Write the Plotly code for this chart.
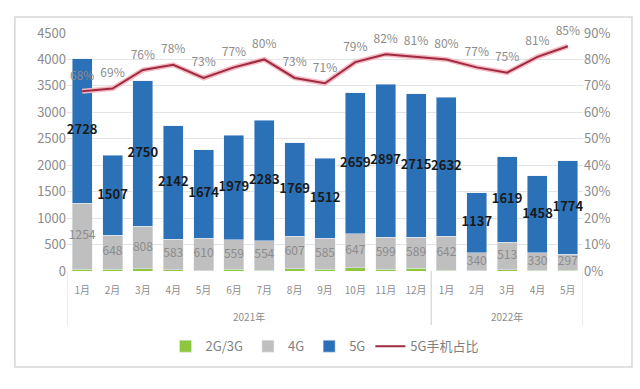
import plotly.graph_objects as go

years = ["2021年"] * 12 + ["2022年"] * 5
months = [f"{i}月" for i in range(1, 13)] + [f"{i}月" for i in range(1, 6)]
g23 = [30, 29, 40, 21, 9, 32, 17, 47, 33, 60, 37, 48, 16, 1, 27, 12, 16]
g4 = [1254, 648, 808, 583, 610, 559, 554, 607, 585, 647, 599, 589, 642, 340, 513, 330, 297]
g5 = [2728, 1507, 2750, 2142, 1674, 1979, 2283, 1769, 1512, 2659, 2897, 2715, 2632, 1137, 1619, 1458, 1774]
share = [68, 69, 76, 78, 73, 77, 80, 73, 71, 79, 82, 81, 80, 77, 75, 81, 85]

x = list(range(len(months)))
FONT = "Noto Sans CJK SC"

fig = go.Figure()
fig.add_trace(go.Bar(x=x, y=g23, name="2G/3G", marker_color="#8DC63F"))
fig.add_trace(go.Bar(x=x, y=g4, name="4G", marker_color="#BFBFBF"))
fig.add_trace(go.Bar(x=x, y=g5, name="5G", marker_color="#2A71B8"))

# value labels
mid4 = [a + b / 2 for a, b in zip(g23, g4)]
mid5 = [a + b + c / 2 for a, b, c in zip(g23, g4, g5)]
fig.add_trace(go.Scatter(x=x, y=mid4, mode="text", text=[str(v) for v in g4],
                         textfont=dict(color="#8C8C8C", size=12, family=FONT),
                         showlegend=False, hoverinfo="skip"))
fig.add_trace(go.Scatter(x=x, y=mid5, mode="text", text=[f"<b>{v}</b>" for v in g5],
                         textfont=dict(color="#1A1A1A", size=13, family=FONT),
                         showlegend=False, hoverinfo="skip"))

# share line with glow
fig.add_trace(go.Scatter(x=x, y=share, yaxis="y2", mode="lines",
                         line=dict(color="#F5B8C4", width=5),
                         showlegend=False, hoverinfo="skip"))
fig.add_trace(go.Scatter(x=x, y=share, yaxis="y2", mode="lines", name="5G手机占比",
                         line=dict(color="#9E2B3F", width=2), hoverinfo="skip"))
fig.add_trace(go.Scatter(x=x, y=share, yaxis="y2", mode="markers+text",
                         marker=dict(size=12, color="rgba(0,0,0,0)"),
                         text=[f"{v}%" for v in share], textposition="top center",
                         textfont=dict(color="#8C8C8C", size=12, family=FONT),
                         cliponaxis=False, showlegend=False, hoverinfo="skip"))

# year group labels and dividers
groups = []
for i, yv in enumerate(years):
    if not groups or groups[-1][0] != yv:
        groups.append([yv, i, i])
    else:
        groups[-1][2] = i
annotations = []
shapes = [dict(type="rect", xref="paper", yref="paper", x0=-0.101, x1=1.095,
               y0=-0.403, y1=1.067, line=dict(color="#D6D6D6", width=1.5), layer="above")]
for name, i0, i1 in groups:
    annotations.append(dict(x=(i0 + i1) / 2, y=-0.193, xref="x", yref="paper", text=name,
                            showarrow=False, font=dict(size=10, color="#8C8C8C"),
                            yanchor="middle"))
    for b in (i0 - 0.5, i1 + 0.5):
        shapes.append(dict(type="line", xref="x", yref="paper", x0=b, x1=b, y0=0, y1=-0.227,
                           line=dict(color="#D9D9D9", width=1)))

fig.update_layout(
    width=640, height=389,
    margin=dict(l=67, r=57, t=33, b=118),
    paper_bgcolor="white", plot_bgcolor="white",
    barmode="stack", bargap=0.34,
    font=dict(family=FONT, color="#7F7F7F"),
    xaxis=dict(range=[-0.5, len(months) - 0.5], tickmode="array", tickvals=x, ticktext=months,
               showgrid=False, tickangle=0, tickfont=dict(size=10, color="#8C8C8C"),
               ticklabelstandoff=12, zeroline=False, showline=False, ticks=""),
    yaxis=dict(range=[0, 4500], dtick=500, showgrid=True, gridcolor="#E3E3E3",
               tickfont=dict(size=13, color="#8C8C8C"), zeroline=False, ticks=""),
    yaxis2=dict(overlaying="y", side="right", range=[0, 90], dtick=10, ticksuffix="%",
                showgrid=False, tickfont=dict(size=13, color="#8C8C8C"), zeroline=False),
    legend=dict(orientation="h", x=0.5, xanchor="center", y=-0.316, yanchor="middle",
                font=dict(size=13, color="#7F7F7F"), traceorder="normal"),
    annotations=annotations,
    shapes=shapes,
)

fig.write_html("out.html", config={"displayModeBar": False},
               post_script="document.body.style.margin='0';")
